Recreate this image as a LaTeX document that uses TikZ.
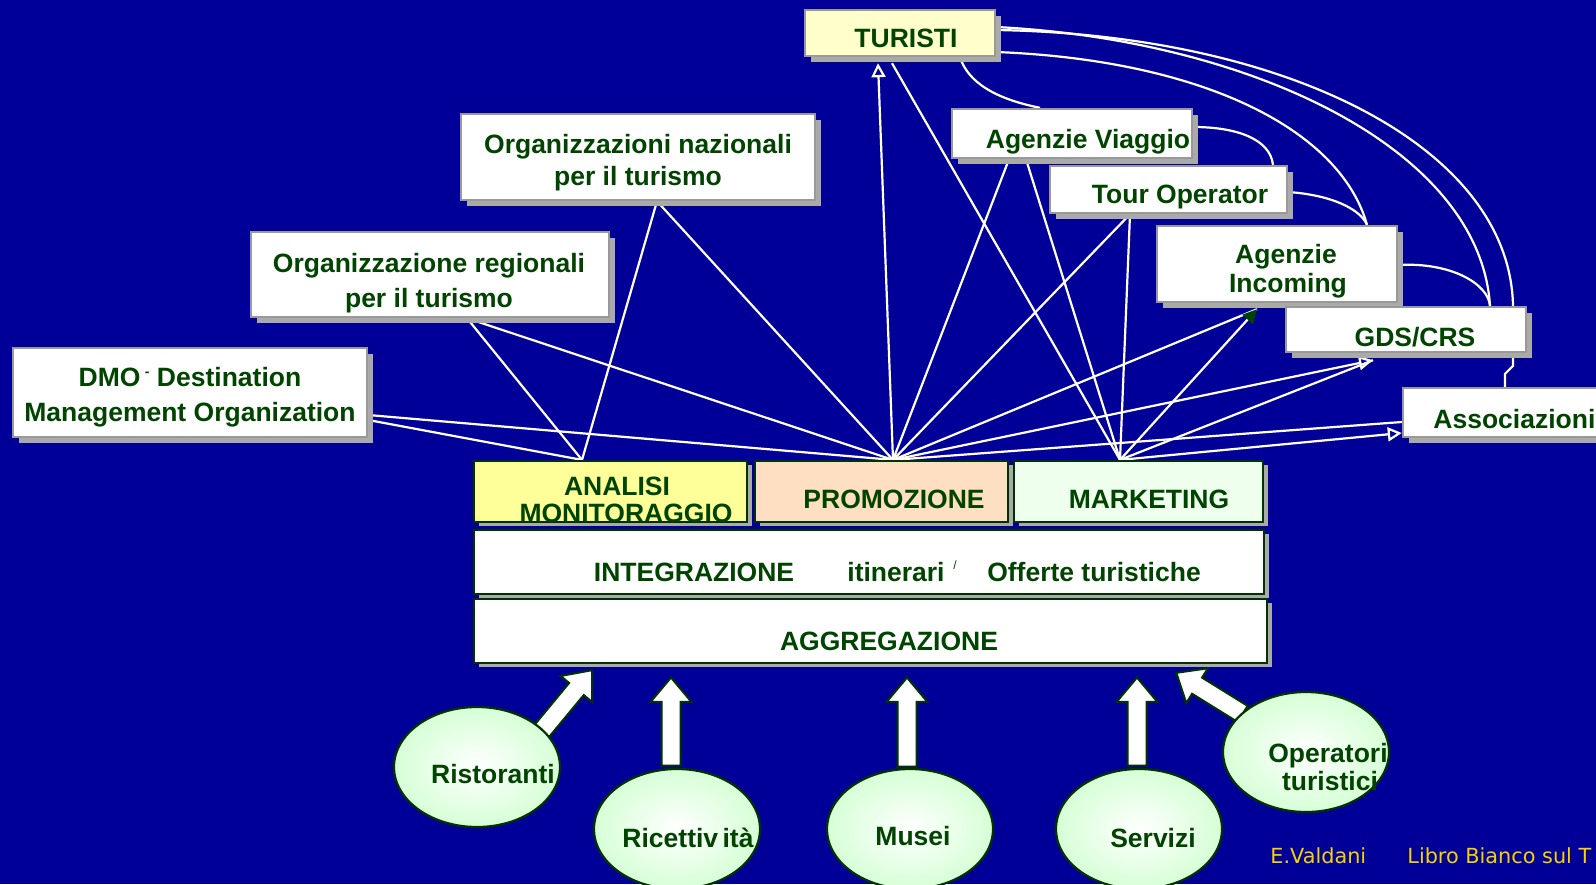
\documentclass[tikz,border=0pt]{standalone}
\usepackage{fontspec}
\setmainfont{Liberation Sans}
\newfontfamily\footfont{DejaVu Sans}
\usetikzlibrary{shapes.geometric,shapes.arrows,shadows,arrows.meta,backgrounds}

\definecolor{bgblue}{HTML}{000099}
\definecolor{dkgreen}{HTML}{004400}
\definecolor{lvlgreen}{HTML}{003300}
\definecolor{boxgray}{HTML}{999999}
\definecolor{shadowgray}{HTML}{AAAAAA}
\definecolor{paleyellow}{HTML}{FFFFCC}
\definecolor{anayellow}{HTML}{FFFF99}
\definecolor{promopeach}{HTML}{FFDFC2}
\definecolor{mintgreen}{HTML}{EEFFEE}
\definecolor{ellgreen}{HTML}{D6FFD6}
\definecolor{footyellow}{HTML}{F5D300}

\tikzset{
  box/.style={draw=boxgray, line width=1.2pt, fill=white, inner sep=0pt,
    drop shadow={shadow xshift=3pt, shadow yshift=-3pt, fill=shadowgray, opacity=1}},
  level/.style={draw=lvlgreen, line width=1.1pt, inner sep=0pt,
    drop shadow={shadow xshift=2.5pt, shadow yshift=-2pt, fill=shadowgray, opacity=1}},
  lbl/.style={text=dkgreen, font=\bfseries\fontsize{13.25}{16}\selectfont, anchor=base, inner sep=0pt},
  supplier/.style={ellipse, draw=lvlgreen, line width=1.1pt, inner color=white, outer color=ellgreen,
    minimum width=83pt, minimum height=60pt, inner sep=0pt},
  bigarrow/.style={single arrow, draw=lvlgreen, line width=1pt, fill=white, inner xsep=0pt,
    inner ysep=4.25pt, single arrow head extend=5.5pt, single arrow tip angle=80,
    minimum height=#1, anchor=tip},
  link/.style={draw=white, line width=1.1pt},
  openhead/.style={-{Triangle[open, length=7pt, width=7pt]}},
  foot/.style={text=footyellow, font=\footfont\fontsize{10.4}{12}\selectfont, anchor=base west, inner sep=0pt}
}

\begin{document}
\begin{tikzpicture}[x=0.5pt,y=-0.5pt]
  \useasboundingbox (0,0) rectangle (1596,884);

  % boxes of the receivers
  \node[box, fill=paleyellow, minimum width=95pt, minimum height=23pt] (tur) at (900,33) {};
  \node[box, minimum width=177pt, minimum height=43pt] (naz) at (638,157) {};
  \node[box, minimum width=179pt, minimum height=42.5pt] (reg) at (430,274.5) {};
  \node[box, minimum width=177pt, minimum height=44.5pt] (dmo) at (190,392.5) {};
  \node[box, minimum width=120pt, minimum height=24.5pt] (av) at (1072,133.5) {};
  \node[box, minimum width=118.5pt, minimum height=23.5pt] (to) at (1168.5,189.5) {};
  \node[box, minimum width=120pt, minimum height=38pt] (inc) at (1277,264) {};
  \node[box, minimum width=120pt, minimum height=22.5pt] (gds) at (1406,329.5) {};
  \node[box, minimum width=120pt, minimum height=24.5pt] (ass) at (1523,412.5) {};

  \node[lbl] (turT) at (906,47) {TURISTI};
  \node[lbl] (nazT1) at (638,153) {Organizzazioni nazionali};
  \node[lbl] (nazT2) at (638,185) {per il turismo};
  \node[lbl] (regT1) at (429,272) {Organizzazione regionali};
  \node[lbl] (regT2) at (429,307) {per il turismo};
  \node[lbl] (dmoT1) at (190,386) {DMO\,\raisebox{5pt}{\fontsize{7}{7}\selectfont -}\ Destination};
  \node[lbl] (dmoT2) at (190,421) {Management Organization};
  \node[lbl] (avT1) at (1088,148) {Agenzie Viaggio};
  \node[lbl] (toT1) at (1180,203) {Tour Operator};
  \node[lbl] (incT1) at (1286,263) {Agenzie};
  \node[lbl] (incT2) at (1288,292) {Incoming};
  \node[lbl] (gdsT) at (1415,346) {GDS/CRS};
  \node[lbl, anchor=base west] (assT1) at (1433,428) {Associazioni};

  % the three levels
  \node[level, fill=anayellow, minimum width=136.5pt, minimum height=30.5pt] (ana) at (610.5,491.5) {};
  \node[level, fill=promopeach, minimum width=126.5pt, minimum height=30.5pt] (promo) at (881.5,491.5) {};
  \node[level, fill=mintgreen, minimum width=124.5pt, minimum height=30.5pt] (mkt) at (1138.5,491.5) {};
  \node[level, fill=white, minimum width=395pt, minimum height=32pt] (integr) at (869,562) {};
  \node[level, fill=white, minimum width=396.5pt, minimum height=32pt] (aggr) at (870.5,631) {};

  \node[lbl] (anaT1) at (617,495) {ANALISI};
  \node[lbl] (anaT2) at (626,522) {MONITORAGGIO};
  \node[lbl] (promoT) at (894,508) {PROMOZIONE};
  \node[lbl] (mktT) at (1149,508) {MARKETING};
  \node[lbl] (integrT) at (694,581) {INTEGRAZIONE};
  \node[lbl] (itinT) at (896,581) {itinerari};
  \node[text=dkgreen, font=\fontsize{6}{6}\selectfont, anchor=base, inner sep=0pt] (slashT) at (955,569) {/};
  \node[lbl] (offT) at (1094,581) {Offerte turistiche};
  \node[lbl] (aggrT) at (889,650) {AGGREGAZIONE};

  % suppliers
  \node[bigarrow=41.5pt, rotate=50.4] (arrRis) at (593,669) {};
  \node[bigarrow=44pt, rotate=90] (arrRic) at (671,676) {};
  \node[bigarrow=44.5pt, rotate=90] (arrMus) at (907,676) {};
  \node[bigarrow=44pt, rotate=90] (arrSer) at (1137,676) {};
  \node[bigarrow=39pt, rotate=148.2] (arrOpe) at (1175,672) {};

  \node[supplier] (ris) at (477,767) {};
  \node[supplier] (ric) at (677,829) {};
  \node[supplier] (mus) at (910,829) {};
  \node[supplier] (ser) at (1139,829) {};
  \node[supplier] (ope) at (1306,752) {};

  \node[lbl] (risT) at (493,783) {Ristoranti};
  \node[lbl] (ricT) at (688,847) {Ricettiv\,ità};
  \node[lbl] (musT) at (913,845) {Musei};
  \node[lbl] (serT) at (1153,847) {Servizi};
  \node[lbl] (opeT1) at (1328,762) {Operatori};
  \node[lbl] (opeT2) at (1330,790) {turistici};

  \node[foot] (author) at (1270,863) {E.Valdani};
  \node[foot] (book) at (1407,863) {Libro Bianco sul T};

  % end points on the boxes
  \coordinate (P) at ([xshift=5.75pt]promo.north);
  \coordinate (M) at ([xshift=-9.25pt]mkt.north);
  \coordinate (A) at ([xshift=-14.25pt]ana.north);
  \coordinate (nazB) at ([xshift=9.5pt]naz.south);
  \coordinate (regB) at ([xshift=18.5pt]reg.south);
  \coordinate (dmoR1) at ([yshift=-11.25pt]dmo.east);
  \coordinate (dmoR2) at ([yshift=-13.75pt]dmo.east);
  \coordinate (turB1) at ([xshift=-11pt,yshift=-3pt]tur.south);
  \coordinate (turB2) at ([xshift=-4pt,yshift=-3pt]tur.south);
  \coordinate (turB3) at ([xshift=30pt]tur.south);
  \coordinate (turR1) at ([yshift=3pt]tur.east);
  \coordinate (turR2) at ([yshift=1.5pt]tur.east);
  \coordinate (turR3) at ([yshift=-9.5pt]tur.east);
  \coordinate (avB1) at ([xshift=-31.5pt]av.south);
  \coordinate (avB2) at ([xshift=-23pt]av.south);
  \coordinate (avN) at ([xshift=-16pt]av.north);
  \coordinate (avE) at ([yshift=3.25pt]av.east);
  \coordinate (toB) at ([xshift=-19.25pt]to.south);
  \coordinate (toN) at ([xshift=52.25pt]to.north);
  \coordinate (toE) at ([yshift=-1.25pt]to.east);
  \coordinate (incB) at ([xshift=-10pt,yshift=-3pt]inc.south);
  \coordinate (incN) at ([xshift=45pt]inc.north);
  \coordinate (incE) at ([yshift=-0.5pt]inc.east);
  \coordinate (gdsB) at ([xshift=-16.5pt,yshift=-3.5pt]gds.south);
  \coordinate (gdsN1) at ([xshift=42pt]gds.north);
  \coordinate (gdsN2) at ([xshift=53.5pt]gds.north);
  \coordinate (assL1) at ([yshift=-4.75pt]ass.west);
  \coordinate (assL2) at ([yshift=-10.25pt]ass.west);
  \coordinate (assN) at ([xshift=-9pt]ass.north);

  \begin{scope}[on background layer]
    \fill[bgblue] (0,0) rectangle (1596,884);
    \draw[link] (dmoR1) -- (P);
    \draw[link] (dmoR2) -- (A);
    \draw[link] (regB) -- (A);
    \draw[link] (regB) -- (P);
    \draw[link] (nazB) -- (A);
    \draw[link] (nazB) -- (P);
    \draw[link, openhead] (P) -- (turB1);
    \draw[link] (P) -- (avB1);
    \draw[link] (P) -- (toB);
    \draw[link] (P) -- (incB);
    \draw[link, openhead] (P) -- (gdsB);
    \draw[link] (P) -- (assL1);
    \draw[link] (turB2) -- (M);
    \draw[link] (avB2) -- (M);
    \draw[link] (toB) -- (M);
    \draw[link, -{Triangle[color=dkgreen, length=7pt, width=7pt]}] (M) -- (incB);
    \draw[link] (M) -- (gdsB);
    \draw[link, openhead] (M) -- (assL2);
    % links among the receivers
    \draw[link] (turB3) .. controls +(8,25) and +(-45,-9) .. (avN);
    \draw[link] (turR1) .. controls +(255,13) and +(-10,-157) .. (gdsN1);
    \draw[link] (turR2) .. controls +(295,5) and +(-3,-157) .. (gdsN2) -- ++(0,60) -- ++(-8,8) -- (assN);
    \draw[link] (turR3) .. controls +(205,8) and +(-27,-96) .. (incN);
    \draw[link] (avE) .. controls +(43,0) and +(-3,-26) .. (toN);
    \draw[link] (toE) .. controls +(43,3) and +(-7,-16) .. (incN);
    \draw[link] (incE) .. controls +(53,-3) and +(-2,-22) .. (gdsN1);
  \end{scope}
\end{tikzpicture}
\end{document}
